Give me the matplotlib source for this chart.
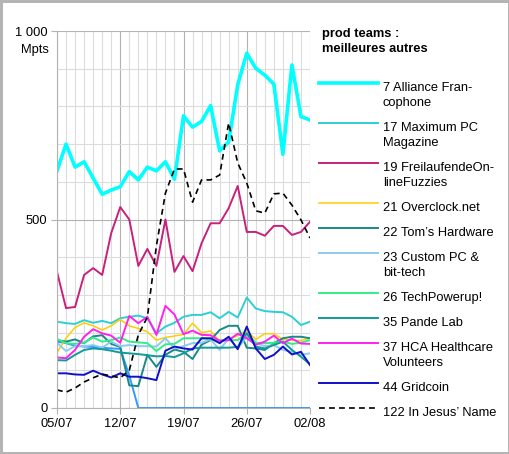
import pandas as pd
import matplotlib
matplotlib.use("Agg")
import matplotlib.pyplot as plt
from matplotlib.lines import Line2D

plt.rcParams['font.family'] = ['Liberation Sans', 'DejaVu Sans']

days = pd.date_range("2020-07-05", "2020-08-02", freq="D")

# Mpts per day
alliance = [629, 700, 639, 653, 610, 567, 578, 587, 627, 605, 639, 629, 653, 607, 775,
            745, 760, 802, 682, 706, 857, 941, 901, 883, 859, 673, 910, 773, 764]
maximumpc = [229, 225, 223, 233, 226, 231, 225, 238, 242, 245, 238, 198, 216, 226, 242,
             247, 247, 254, 238, 255, 240, 293, 264, 257, 255, 254, 242, 220, 229]
fuzzies = [361, 265, 268, 353, 371, 353, 464, 533, 500, 377, 422, 377, 500, 361, 403,
           363, 437, 490, 490, 530, 589, 467, 467, 457, 483, 483, 459, 467, 494]
overclock = [147, 185, 214, 226, 218, 207, 218, 235, 218, 211, 202, 180, 187, 191, 195,
             225, 200, 204, 178, 181, 192, 205, 182, 197, 197, 182, 180, 179, 185]
toms = [180, 176, 182, 172, 190, 193, 170, 162, 60, 58, 141, 109, 141, 155, 149,
        130, 168, 180, 207, 218, 218, 160, 158, 154, 172, 185, 189, 189, 185]
custompc = [173, 151, 164, 164, 167, 160, 176, 164, 167, 164, 164, 163, 185, 158, 164,
            172, 173, 182, 154, 185, 158, 189, 172, 164, 167, 154, 149, 141, 145]
techpowerup = [183, 172, 170, 173, 187, 176, 180, 187, 176, 174, 172, 151, 169, 170, 185,
               185, 185, 182, 180, 180, 180, 198, 173, 172, 173, 176, 170, 173, 180]
pande = [127, 126, 141, 154, 158, 156, 152, 147, 145, 143, 140, 137, 138, 135, 145,
         158, 160, 160, 160, 160, 162, 198, 163, 158, 167, 176, 154, 136, 116]
hca = [134, 132, 154, 189, 209, 198, 192, 173, 244, 225, 242, 194, 271, 248, 196,
       205, 194, 193, 178, 180, 197, 185, 168, 176, 192, 172, 184, 171, 170]
gridcoin = [92, 92, 89, 88, 99, 89, 81, 92, 83, 83, 79, 74, 152, 163, 158,
            155, 185, 185, 172, 189, 156, 216, 158, 130, 141, 163, 142, 149, 114]
jesus = [48, 42, 53, 69, 80, 90, 85, 80, 100, 194, 241, 430, 570, 634, 634,
         546, 605, 605, 618, 756, 650, 597, 523, 517, 568, 570, 538, 499, 451]
gone = [176, 172, 165, 163, 162, 160, 158, 157, 86, 0, 0, 0, 0, 0, 0,
        0, 0, 0, 0, 0, 0, 0, 0, 0, 0, 0, 0, 0, 0]

labels = ["7 Alliance Fran-\ncophone", "17 Maximum PC\nMagazine",
          "19 FreilaufendeOn-\nlineFuzzies", "21 Overclock.net",
          "22 Tom\u2019s Hardware", "23 Custom PC &\nbit-tech", "26 TechPowerup!",
          "35 Pande Lab", "37 HCA Healthcare\nVolunteers", "44 Gridcoin",
          "122 In Jesus\u2019 Name"]
series = [alliance, maximumpc, fuzzies, overclock, toms, custompc, techpowerup,
          pande, hca, gridcoin, jesus]
colors = ["#00ffff", "#2ccfd6", "#c8207c", "#ffcc00", "#168a88", "#8ccbef",
          "#33ee88", "#109a9a", "#ff22ee", "#1010c8", "black"]
widths = [2.6, 1.4, 1.4, 1.1, 1.4, 1.4, 1.4, 1.4, 1.4, 1.4, 1.2]
fs = 9.3

fig = plt.figure(figsize=(5.1, 4.54), dpi=100)
fig.patch.set_edgecolor("#b4b4b4")
fig.patch.set_linewidth(2.5)
ax = fig.add_axes([57 / 510, 1 - 408 / 454, 253 / 510, 377 / 454])

ax.plot(days, gone, color="#3399ff", lw=1.4)
for vals, col, lw in zip(series, colors, widths):
    if col == "black":
        ax.plot(days, vals, color=col, lw=lw, ls=(0, (3.5, 2.5)))
    else:
        ax.plot(days, vals, color=col, lw=lw)

ax.set_xlim(days[0], days[-1])
ax.set_ylim(0, 1000)
ax.set_xticks(days[::7])
ax.set_xticklabels([d.strftime("%d/%m") for d in days[::7]])
ax.set_xticks(days, minor=True)
ax.set_yticks([0, 500, 1000])
ax.set_yticklabels(["0", "500", "1 000"])
ax.set_yticks(range(0, 1001, 100), minor=True)
ax.grid(which="minor", color="#dcdcdc", lw=0.8)
ax.grid(which="major", color="#b3b3b3", lw=0.8)
ax.set_axisbelow(True)
ax.tick_params(which="major", length=4, color="#b3b3b3", labelsize=fs, pad=3)
ax.tick_params(which="minor", length=0)
for s in ["top", "right"]:
    ax.spines[s].set_visible(False)
for s in ["left", "bottom"]:
    ax.spines[s].set_color("#b3b3b3")
ax.text(-0.032, 950, "Mpts", transform=ax.get_yaxis_transform(), ha="right",
        va="center", fontsize=fs)

# legend, drawn by hand so the handle sits on the first text line
px = lambda x, y: (x / 510, 1 - y / 454)
for k, line in enumerate(["prod teams :", "meilleures autres"]):
    fig.text(*px(322, 37 + 15 * k), line, fontsize=fs, fontweight="bold", va="baseline")
y = 83.3
for lab, col, lw in zip(labels, colors, widths):
    x0, yy = px(319, y)
    x1, _ = px(378, y)
    ls = (0, (3.5, 2.5)) if col == "black" else "-"
    fig.add_artist(Line2D([x0, x1], [yy, yy], color=col, lw=lw, ls=ls))
    for k, line in enumerate(lab.split("\n")):
        fig.text(*px(383, y + 7.3 + 15 * k), line, fontsize=fs, va="baseline")
    y += 25 + 15 * lab.count("\n")

fig.savefig("out.png", dpi=100)
